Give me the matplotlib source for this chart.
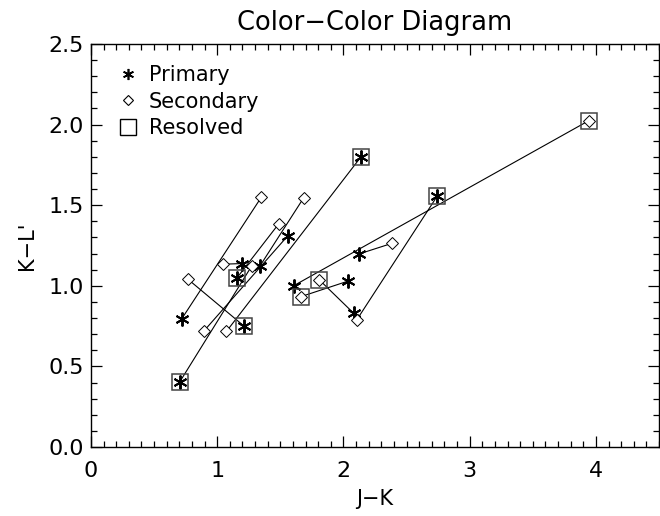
import matplotlib
matplotlib.use("Agg")
import matplotlib.pyplot as plt
from matplotlib.lines import Line2D
from matplotlib.ticker import MultipleLocator

# Paired systems: primary (J-K, K-L') and secondary (J-K, K-L')
prim_jk = [0.717, 1.199, 1.211, 1.607, 2.745, 2.121, 2.082, 2.040, 2.140, 0.704, 1.158, 1.340, 1.560]
prim_kl = [0.793, 1.138, 0.751, 1.001, 1.559, 1.197, 0.829, 1.030, 1.801, 0.405, 1.051, 1.125, 1.311]
sec_jk = [1.349, 1.046, 0.769, 3.945, 2.105, 2.387, 1.810, 1.660, 1.073, 1.274, 1.486, 1.686, 0.896]
sec_kl = [1.549, 1.134, 1.040, 2.025, 0.788, 1.264, 1.036, 0.932, 0.717, 1.124, 1.383, 1.547, 0.721]
prim_resolved = [False, False, True, False, True, False, False, False, True, True, True, False, False]
sec_resolved = [False, False, False, True, False, False, True, True, False, False, False, False, False]

title = "Color\u2212Color Diagram"
xlabel = "J\u2212K"
ylabel = "K\u2212L'"
legend_labels = ["Primary", "Secondary", "Resolved"]

plt.rcParams['font.family'] = ['DejaVu Sans']
fig = plt.figure(figsize=(6.6, 5.16), dpi=100)
ax = fig.add_axes([91/660, 1-447/516, (659-91)/660, (447-44)/516])

star = (6, 2, 0)
for px, py, sx, sy in zip(prim_jk, prim_kl, sec_jk, sec_kl):
    ax.plot([px, sx], [py, sy], color='black', lw=0.8, zorder=1)

ax.plot(prim_jk, prim_kl, ls='none', marker=star, ms=10, mew=1.4, color='black', zorder=3)
ax.plot(sec_jk, sec_kl, ls='none', marker='D', ms=6, mew=0.7, mfc='white', mec='black', zorder=3)

rx = [x for x, r in zip(prim_jk, prim_resolved) if r] + [x for x, r in zip(sec_jk, sec_resolved) if r]
ry = [y for y, r in zip(prim_kl, prim_resolved) if r] + [y for y, r in zip(sec_kl, sec_resolved) if r]
ax.plot(rx, ry, ls='none', marker='s', ms=12, mew=1.1, mfc='none', mec='#444444', zorder=4)

ax.set_xlim(0, 4.5)
ax.set_ylim(0, 2.5)
ax.xaxis.set_major_locator(MultipleLocator(1))
ax.xaxis.set_minor_locator(MultipleLocator(0.1))
ax.yaxis.set_major_locator(MultipleLocator(0.5))
ax.yaxis.set_minor_locator(MultipleLocator(0.1))
ax.xaxis.set_major_formatter(matplotlib.ticker.FormatStrFormatter('%d'))
ax.yaxis.set_major_formatter(matplotlib.ticker.FormatStrFormatter('%.1f'))
ax.tick_params(which='both', direction='in', top=True, right=True, labelsize=16, width=0.9, colors='black')
ax.tick_params(which='major', length=8)
ax.tick_params(axis='x', which='major', pad=10)
ax.tick_params(axis='y', which='major', pad=5)
ax.tick_params(which='minor', length=4)
for s in ax.spines.values():
    s.set_linewidth(1.0)

ax.set_title(title, fontsize=18.5, pad=10)
ax.set_xlabel(xlabel, fontsize=15, labelpad=6)
ax.set_ylabel(ylabel, fontsize=15, labelpad=8)

handles = [
    Line2D([], [], ls='none', marker=star, ms=8, mew=1.2, color='black'),
    Line2D([], [], ls='none', marker='D', ms=5, mew=0.8, mfc='white', mec='black'),
    Line2D([], [], ls='none', marker='s', ms=12, mew=1.0, mfc='none', mec='black'),
]
ax.legend(handles, legend_labels, loc='upper left', bbox_to_anchor=(0.025, 0.978), frameon=False,
          fontsize=15, handlelength=1.0, handletextpad=0.5, labelspacing=0.3, borderaxespad=0.2)

fig.savefig("out.png", dpi=100)
